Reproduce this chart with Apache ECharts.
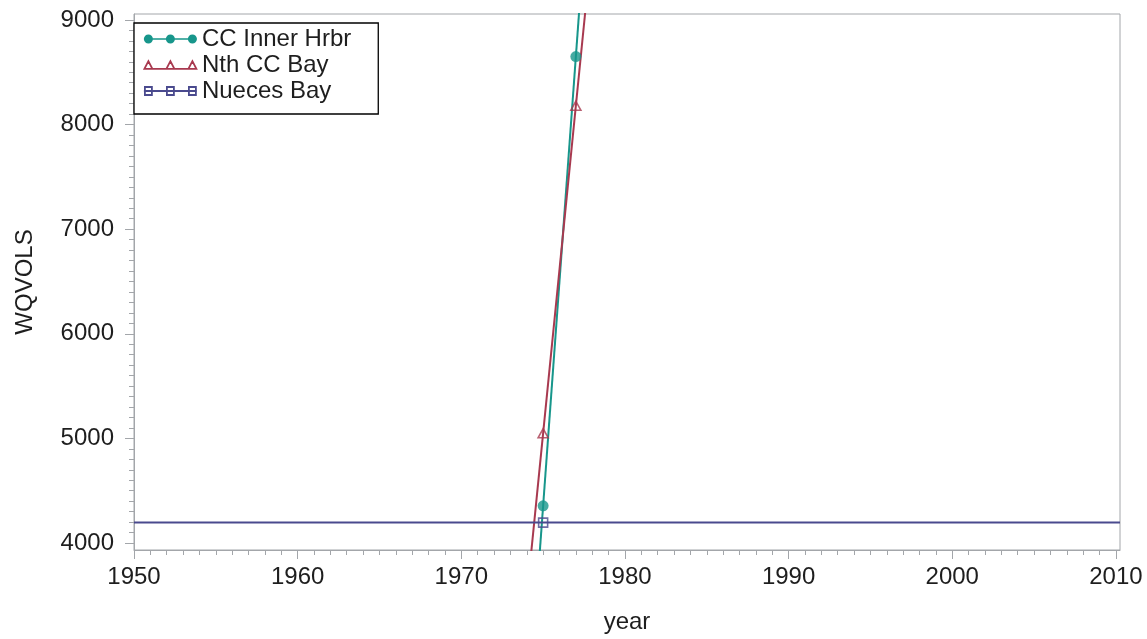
<!DOCTYPE html>
<html>
<head>
<meta charset="utf-8">
<script src="https://cdn.jsdelivr.net/npm/echarts@6/dist/echarts.min.js"></script>
<style>
html,body{margin:0;padding:0;background:#fff;}
#chart{width:1147px;height:639px;}
</style>
</head>
<body>
<div id="chart"></div>
<script>
// ---- data ----
const seriesNames = ['CC Inner Hrbr', 'Nth CC Bay', 'Nueces Bay'];
const ccInnerYears = [1975, 1977];
const ccInnerValues = [4355, 8650];
const nthCCYears = [1975, 1977];
const nthCCValues = [5050, 8180];
const nuecesYears = [1975];
const nuecesValues = [4195];
const xTickLabels = [1950, 1960, 1970, 1980, 1990, 2000, 2010];
const yTickLabels = [4000, 5000, 6000, 7000, 8000, 9000];

// ---- styling ----
const colors = ['#17968b', '#a8394f', '#4a4a8e'];
const axisGray = '#a3a6aa';
const textColor = '#1e1e1e';
const font = "'Liberation Sans', Arial, sans-serif";
const xMin = 1950, xMax = 2010.25, yMin = 3933, yMax = 9057;

const xMinor = []; for (let v = 1950; v <= 2010; v += 1) xMinor.push(v);
const yMinor = []; for (let v = 4000; v <= 9000; v += 100) yMinor.push(v);

function fit(xs, ys) {
  const n = xs.length;
  const mx = xs.reduce((a, b) => a + b, 0) / n;
  const my = ys.reduce((a, b) => a + b, 0) / n;
  let sxy = 0, sxx = 0;
  for (let i = 0; i < n; i++) { sxy += (xs[i] - mx) * (ys[i] - my); sxx += (xs[i] - mx) * (xs[i] - mx); }
  const b = sxx === 0 ? 0 : sxy / sxx;
  return x => my + b * (x - mx);
}
function fitLine(xs, ys) {
  const f = fit(xs, ys);
  return [[xMin, f(xMin)], [xMax, f(xMax)]];
}
function pts(xs, ys) { return xs.map((x, i) => [x, ys[i]]); }

const groups = [
  { xs: ccInnerYears, ys: ccInnerValues, symbol: 'circle', size: 11, hollow: false },
  { xs: nthCCYears, ys: nthCCValues, symbol: 'triangle', size: [10, 9], hollow: true },
  { xs: nuecesYears, ys: nuecesValues, symbol: 'rect', size: 9, hollow: true }
];

const series = [];
groups.forEach((g, i) => {
  series.push({
    name: seriesNames[i], type: 'line', data: fitLine(g.xs, g.ys),
    showSymbol: false, clip: true, silent: true,
    lineStyle: { color: colors[i], width: 2 }, itemStyle: { color: colors[i] }, z: 2
  });
  series.push({
    name: seriesNames[i], type: 'scatter', data: pts(g.xs, g.ys),
    symbol: g.symbol, symbolSize: g.size, clip: true,
    itemStyle: g.hollow ? { color: 'rgba(0,0,0,0)', borderColor: colors[i], borderWidth: 1.6 } : { color: colors[i] },
    z: 3
  });
});

const icons = [
  'path://M0 3.8H53V5.2H0Z M0 4.5a4.5 4.5 0 1 1 9 0a4.5 4.5 0 1 1 -9 0Z M22 4.5a4.5 4.5 0 1 1 9 0a4.5 4.5 0 1 1 -9 0Z M44 4.5a4.5 4.5 0 1 1 9 0a4.5 4.5 0 1 1 -9 0Z',
  'path://M0 8.3H53 M4.5 0.5L8.5 8.3L0.5 8.3Z M26.5 0.5L30.5 8.3L22.5 8.3Z M48.5 0.5L52.5 8.3L44.5 8.3Z',
  'path://M0 4.5H53 M1 0.5H8V8.5H1Z M23 0.5H30V8.5H23Z M45 0.5H52V8.5H45Z'
];
const legendData = seriesNames.map((n, i) => ({
  name: n,
  icon: icons[i],
  itemStyle: i === 0 ? { color: colors[i], borderWidth: 0 } : { color: 'rgba(0,0,0,0)', borderColor: colors[i], borderWidth: 1.8 }
}));

const plain = v => String(Math.round(v));

const chart = echarts.init(document.getElementById('chart'), null, { renderer: 'canvas' });
chart.setOption({
  animation: false,
  backgroundColor: '#fff',
  textStyle: { fontFamily: font },
  grid: { left: 134, right: 27, top: 14, bottom: 87, show: true, borderColor: axisGray, borderWidth: 1, backgroundColor: 'transparent' },
  legend: {
    data: legendData, orient: 'vertical', left: 134, top: 23,
    itemWidth: 53, itemHeight: 10, itemGap: 2,
    padding: [4, 27, 11, 9],
    borderColor: '#000', borderWidth: 1.3, backgroundColor: '#fff',
    textStyle: { fontFamily: font, fontSize: 24, color: textColor, lineHeight: 24 },
    selectedMode: false
  },
  xAxis: [
    {
      type: 'value', min: xMin, max: xMax, position: 'bottom',
      name: 'year', nameLocation: 'middle', nameGap: 60,
      nameTextStyle: { fontFamily: font, fontSize: 24, color: textColor },
      axisLine: { show: true, lineStyle: { color: axisGray, width: 1 } },
      axisTick: { show: true, customValues: xTickLabels, length: 9, lineStyle: { color: axisGray } },
      axisLabel: { customValues: xTickLabels, formatter: plain, margin: 15, fontFamily: font, fontSize: 24, color: textColor },
      splitLine: { show: false }
    },
    {
      type: 'value', min: xMin, max: xMax, position: 'bottom', gridIndex: 0,
      axisLine: { show: false },
      axisTick: { show: true, customValues: xMinor, length: 5, lineStyle: { color: axisGray } },
      axisLabel: { show: false },
      splitLine: { show: false }
    }
  ],
  yAxis: [
    {
      type: 'value', min: yMin, max: yMax, position: 'left',
      name: 'WQVOLS', nameLocation: 'middle', nameGap: 97,
      nameTextStyle: { fontFamily: font, fontSize: 24, color: textColor },
      axisLine: { show: true, lineStyle: { color: axisGray, width: 1 } },
      axisTick: { show: true, customValues: yTickLabels, length: 9, lineStyle: { color: axisGray } },
      axisLabel: { customValues: yTickLabels, formatter: plain, margin: 20, fontFamily: font, fontSize: 24, color: textColor },
      splitLine: { show: false }
    },
    {
      type: 'value', min: yMin, max: yMax, position: 'left', gridIndex: 0,
      axisLine: { show: false },
      axisTick: { show: true, customValues: yMinor, length: 5, lineStyle: { color: axisGray } },
      axisLabel: { show: false },
      splitLine: { show: false }
    }
  ],
  series: series
});
</script>
</body>
</html>
